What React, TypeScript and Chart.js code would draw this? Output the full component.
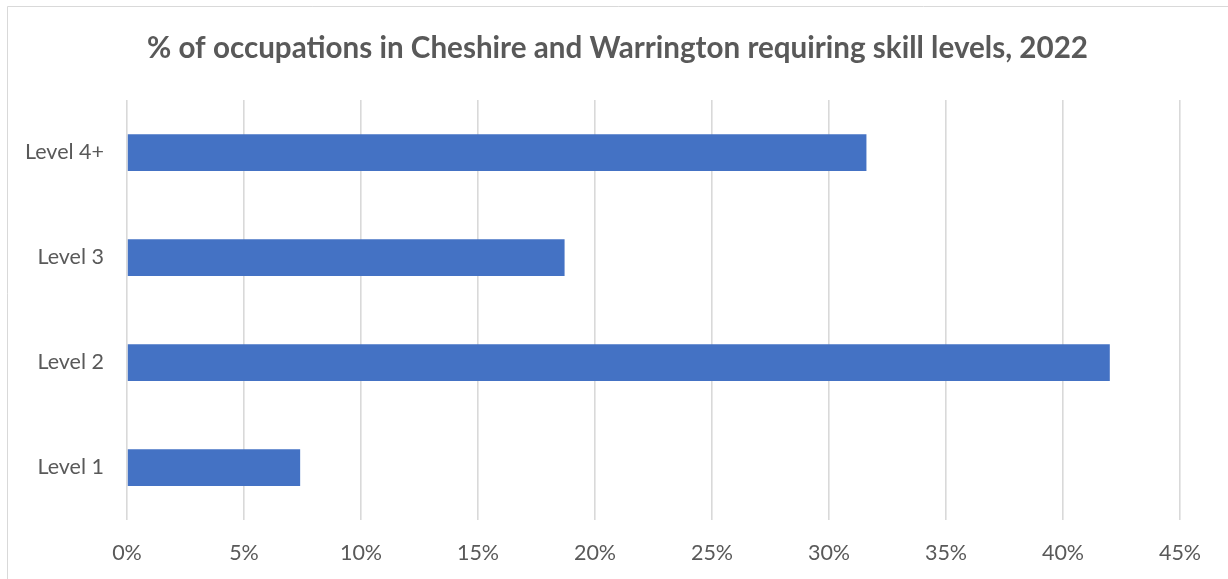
import React, { useEffect, useRef } from "react";
import { Chart, registerables } from "chart.js";

Chart.register(...registerables);

const TITLE = "% of occupations in Cheshire and Warrington requiring skill levels, 2022";
const categories = ["Level 4+", "Level 3", "Level 2", "Level 1"];
const shares = [31.6, 18.7, 42.0, 7.4];
const xTicks = [0, 5, 10, 15, 20, 25, 30, 35, 40, 45];

const FONT = "Lato, 'Noto Sans', sans-serif";
const TEXT = "#595959";
const GRID = "#d9d9d9";

const decorPlugin = {
  id: "decor",
  beforeDraw(chart: any) {
    const ctx = chart.ctx;
    ctx.save();
    ctx.fillStyle = "#ffffff";
    ctx.fillRect(0, 0, chart.width, chart.height);
    ctx.strokeStyle = GRID;
    ctx.lineWidth = 1;
    ctx.beginPath();
    ctx.moveTo(7.5, chart.height + 2);
    ctx.lineTo(7.5, 6.5);
    ctx.lineTo(chart.width + 2, 6.5);
    ctx.stroke();
    ctx.restore();
  },
  afterDraw(chart: any) {
    const ctx = chart.ctx;
    ctx.save();
    ctx.fillStyle = TEXT;
    ctx.font = `bold 29.6px ${FONT}`;
    ctx.textAlign = "center";
    ctx.textBaseline = "middle";
    ctx.fillText(TITLE, 617.5, 48);
    ctx.restore();
  },
};

export default function App() {
  const ref = useRef<HTMLCanvasElement | null>(null);

  useEffect(() => {
    let chart: Chart | null = null;
    let cancelled = false;
    const make = () => {
      if (cancelled || !ref.current) return;
      chart = new Chart(ref.current, {
        type: "bar",
        data: {
          labels: categories,
          datasets: [
            {
              data: shares,
              backgroundColor: "#4472C4",
              borderWidth: 0,
              categoryPercentage: 1,
              barPercentage: 0.35,
            },
          ],
        },
        options: {
          indexAxis: "y",
          animation: false,
          responsive: false,
          maintainAspectRatio: false,
          layout: { padding: { top: 100, right: 48, left: 0, bottom: 0 } },
          plugins: {
            legend: { display: false },
            title: { display: false },
            tooltip: { enabled: false },
          },
          scales: {
            x: {
              min: 0,
              max: 45,
              afterBuildTicks: (scale: any) => {
                scale.ticks = xTicks.map((v) => ({ value: v }));
              },
              afterFit: (scale: any) => {
                scale.height = 59;
              },
              grid: { color: GRID, lineWidth: 1.6, drawTicks: false },
              border: { display: false },
              ticks: {
                padding: 20,
                color: TEXT,
                font: { family: FONT, size: 21.5 },
                callback: (v: any) => `${v}%`,
              },
            },
            y: {
              afterFit: (scale: any) => {
                scale.width = 127;
              },
              grid: { display: false, drawTicks: false },
              border: { display: false },
              ticks: {
                padding: 23,
                color: TEXT,
                font: { family: FONT, size: 21.5 },
              },
            },
          },
        },
        plugins: [decorPlugin],
      });
    };
    const fonts: any = (document as any).fonts;
    if (fonts && fonts.load) {
      Promise.all([fonts.load(`bold 29px Lato`), fonts.load(`21px Lato`)])
        .catch(() => {})
        .then(make);
    } else {
      make();
    }
    return () => {
      cancelled = true;
      if (chart) chart.destroy();
    };
  }, []);

  return (
    <div style={{ position: "absolute", left: 0, top: 0, width: 1228, height: 579, background: "#fff" }}>
      <canvas ref={ref} width={1228} height={579} style={{ display: "block", width: 1228, height: 579 }} />
    </div>
  );
}
